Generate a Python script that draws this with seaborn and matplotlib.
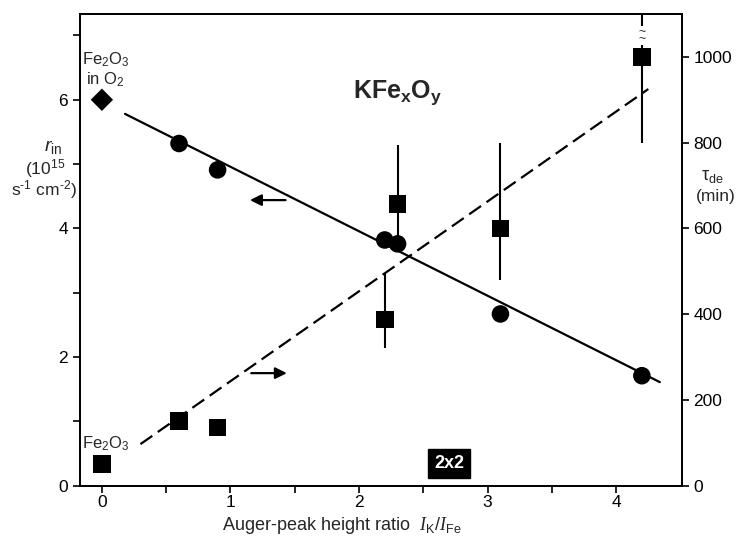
import numpy as np
import pandas as pd
import seaborn as sns
import matplotlib.pyplot as plt

# circles: initial rate r_in (left axis)
k_ratio = [0.6, 0.9, 2.2, 2.3, 3.1, 4.2]
r_in = [5.32, 4.91, 3.82, 3.76, 2.67, 1.71]
# diamond: Fe2O3 in O2
fe_x = [0.0]
fe_r = [6.0]
# squares: tau_de (right axis), with error bar limits
sq_x = [0.0, 0.6, 0.9, 2.2, 2.3, 3.1, 4.2]
tau_de = [50, 151, 136, 388, 657, 600, 1000]
err_x = [2.2, 2.3, 3.1, 4.2]
err_lo = [320, 566, 480, 800]
err_hi = [495, 795, 800, 1100]
# fitted lines
fit_x = [0.18, 4.34]
fit_r = [5.78, 1.61]
dash_x = [0.30, 4.25]
dash_tau = [97, 925]

sns.set_style('ticks')
plt.rcParams['font.family'] = ['Liberation Sans', 'DejaVu Sans']
plt.rcParams['mathtext.fontset'] = 'custom'
plt.rcParams['mathtext.rm'] = 'Liberation Sans'
plt.rcParams['mathtext.it'] = 'Liberation Sans:italic'
plt.rcParams['mathtext.sf'] = 'Liberation Serif:italic'
plt.rcParams['mathtext.bf'] = 'Liberation Sans:bold'

fig = plt.figure(figsize=(7.39, 5.41), dpi=100)
ax = fig.add_axes([0.1083, 0.1022, 0.8142, 0.8719])
ax2 = ax.twinx()

df_c = pd.DataFrame({'x': k_ratio, 'r': r_in})
df_s = pd.DataFrame({'x': sq_x, 't': tau_de})

sns.lineplot(x=fit_x, y=fit_r, ax=ax, color='black', lw=1.6)
sns.scatterplot(data=df_c, x='x', y='r', ax=ax, marker='o', s=160, color='black', edgecolor='none', zorder=5)
sns.scatterplot(x=fe_x, y=fe_r, ax=ax, marker='D', s=130, color='black', edgecolor='none', zorder=5)

sns.lineplot(x=dash_x, y=dash_tau, ax=ax2, color='black', lw=1.6, dashes=False, linestyle=(0, (6.5, 3)))
ax2.vlines(err_x, err_lo, err_hi, color='black', lw=1.5)
sns.scatterplot(data=df_s, x='x', y='t', ax=ax2, marker='s', s=160, color='black', edgecolor='none', zorder=5)
ax2.text(4.2, 1050, '~\n~', ha='center', va='center', fontsize=9, linespacing=0.45,
         bbox=dict(facecolor='white', edgecolor='none', pad=0.1))

ax.set_xlim(-0.17, 4.51)
ax.set_ylim(0, 7.333)
ax2.set_ylim(0, 1100)
ax.set_xticks([0, 1, 2, 3, 4])
ax.set_xticks([0.5, 1.5, 2.5, 3.5], minor=True)
ax.set_yticks([0, 2, 4, 6])
ax.set_yticks([1, 3, 5, 7], minor=True)
ax2.set_yticks([0, 200, 400, 600, 800, 1000])
for a in (ax, ax2):
    a.tick_params(which='both', direction='out', length=5, width=1.2, labelsize=12.5, colors='black')
    for sp in a.spines.values():
        sp.set_linewidth(1.3)
        sp.set_color('black')
ax.tick_params(axis='x', pad=2)
ax.set_xlabel(r'Auger-peak height ratio  $\mathsf{I}_{\mathrm{K}}/\mathsf{I}_{\mathrm{Fe}}$', fontsize=13)
ax.xaxis.set_label_coords(0.435, -0.062)
ax.set_ylabel('')
ax2.set_ylabel('')

ax.text(2.30, 6.11, r'KFe$_{\mathbf{x}}$O$_{\mathbf{y}}$', fontsize=18, fontweight='bold', ha='center', va='center')
ax.text(0.03, 6.62, r'Fe$_2$O$_3$', fontsize=12, ha='center', va='center')
ax.text(0.03, 6.32, r'in O$_2$', fontsize=12, ha='center', va='center')
ax.text(0.03, 0.65, r'Fe$_2$O$_3$', fontsize=12, ha='center', va='center')
ax.text(2.70, 0.345, '2x2', fontsize=13, fontweight='bold', color='white', ha='center', va='center',
        bbox=dict(facecolor='black', edgecolor='black', pad=4))

ax.annotate('', xy=(1.13, 4.44), xytext=(1.45, 4.44),
            arrowprops=dict(arrowstyle='-|>', color='black', lw=1.6, mutation_scale=17))
ax.annotate('', xy=(1.46, 1.75), xytext=(1.14, 1.75),
            arrowprops=dict(arrowstyle='-|>', color='black', lw=1.6, mutation_scale=17))

fig.text(53 / 739, 1 - 147 / 541, r'$r_{\mathrm{in}}$', fontsize=14, ha='center', va='center')
fig.text(45 / 739, 1 - 169 / 541, r'(10$^{15}$', fontsize=12.5, ha='center', va='center')
fig.text(44 / 739, 1 - 190 / 541, r's$^{\text{-}1}$ cm$^{\text{-}2}$)', fontsize=12.5, ha='center', va='center')
fig.text(712 / 739, 1 - 177 / 541, r'τ$_{\mathrm{de}}$', fontsize=13, ha='center', va='center')
fig.text(716 / 739, 1 - 197 / 541, '(min)', fontsize=12.5, ha='center', va='center')

fig.savefig('out.png', dpi=100)
